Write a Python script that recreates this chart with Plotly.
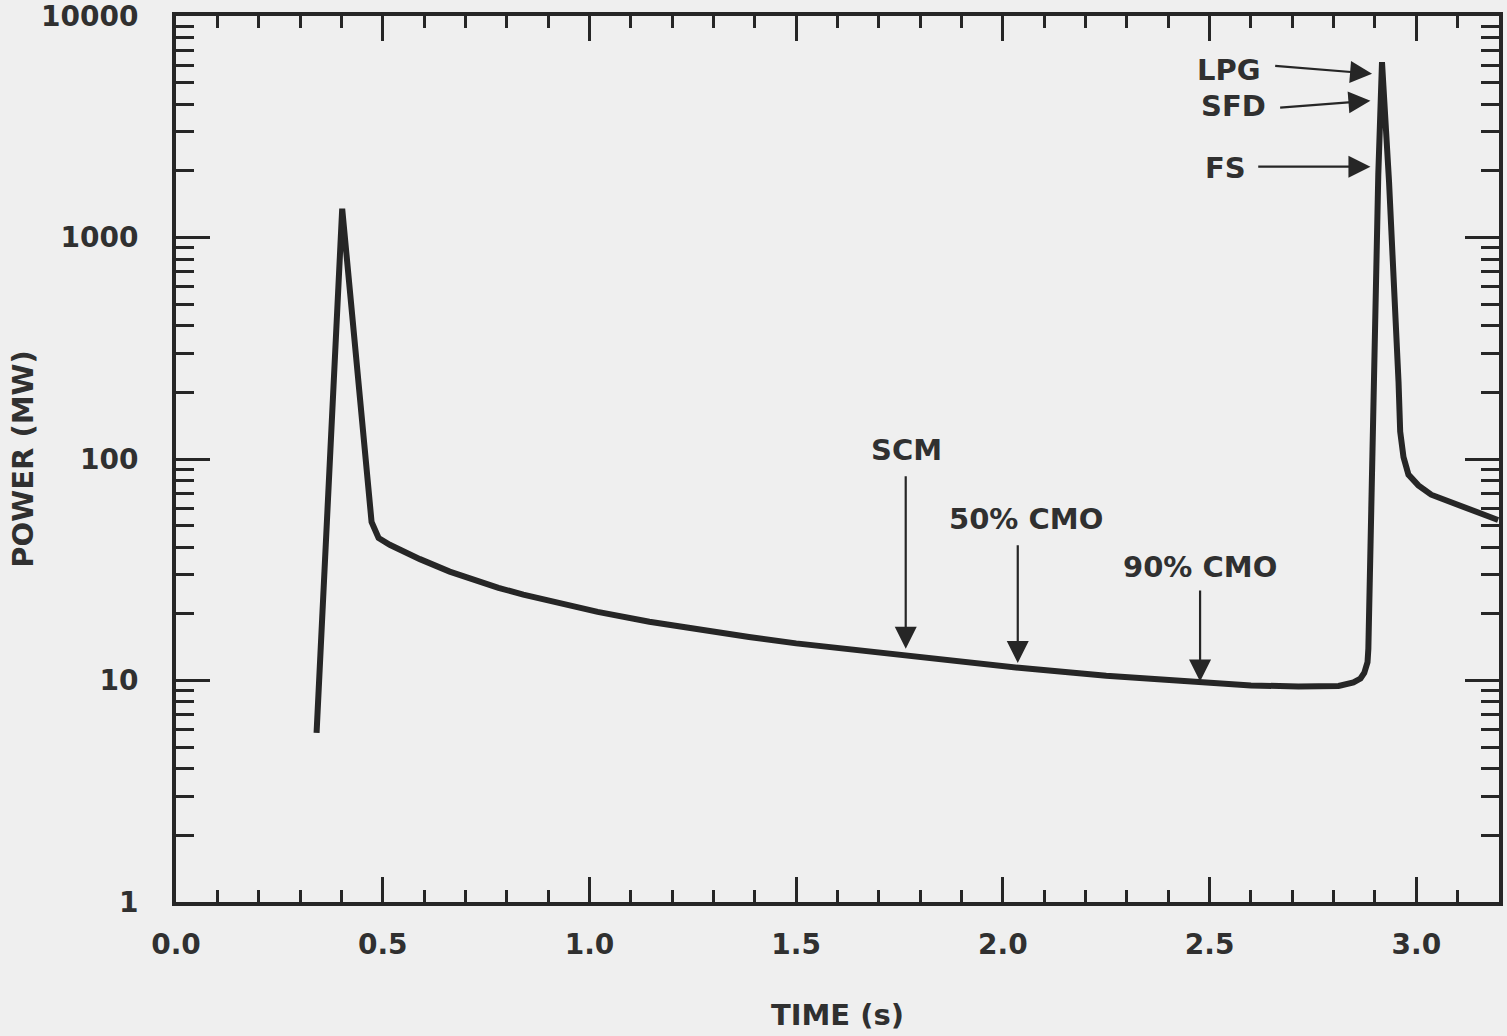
import math
import plotly.graph_objects as go

# ---- data ----
time_s = [0.340, 0.402, 0.473, 0.481, 0.490, 0.517, 0.590, 0.662, 0.720, 0.780,
          0.840, 0.903, 1.020, 1.145, 1.260, 1.386, 1.500, 1.628, 1.749, 1.900,
          2.039, 2.250, 2.473, 2.600, 2.715, 2.812, 2.848, 2.865, 2.874, 2.882,
          2.884, 2.896, 2.908, 2.917, 2.934, 2.957, 2.961, 2.969, 2.981, 3.005,
          3.036, 3.198]
power_mw = [5.8, 1350, 52, 47, 44, 41, 35.3, 31.0, 28.4, 26.2,
            24.4, 22.8, 20.4, 18.4, 17.0, 15.7, 14.7, 13.8, 13.0, 12.2,
            11.4, 10.5, 9.77, 9.5, 9.38, 9.45, 9.8, 10.2, 10.8, 12.1,
            13.9, 223, 1920, 6200, 1790, 223, 133, 102, 85, 76,
            69, 53]

# vertical arrow annotations: label, text position, arrow tail, arrow tip
down_labels = ["SCM", "50% CMO", "90% CMO"]
down_text_x = [1.766, 2.056, 2.476]
down_text_y = [110, 53.7, 32.6]
down_tail_x = [1.765, 2.036, 2.477]
down_tail_y = [84.9, 41.4, 25.9]
down_tip_y = [13.9, 12.0, 9.9]

side_labels = ["LPG", "SFD", "FS"]
side_text_x = [2.546, 2.558, 2.539]
side_text_y = [5727, 3940, 2067]
side_tail_x = [2.655, 2.667, 2.614]
side_tail_y = [5970, 3855, 2089]
side_tip_x = [2.893, 2.889, 2.889]
side_tip_y = [5495, 4150, 2089]

y_tick_vals = [1, 10, 100, 1000, 10000]
y_tick_text = ["1", "10", "100", "1000", "10000"]
x_tick_vals = [0.0, 0.5, 1.0, 1.5, 2.0, 2.5, 3.0]
x_tick_text = ["0.0", "0.5", "1.0", "1.5", "2.0", "2.5", "3.0"]

INK = "#262626"
TXT = "#303030"
BG = "#efefef"
FONT = "DejaVu Sans, Verdana, sans-serif"
L = math.log10


def b(s):
    return "<b>" + s + "</b>"


fig = go.Figure()
fig.add_trace(go.Scatter(x=time_s, y=power_mw, mode="lines",
                         line=dict(color=INK, width=6), showlegend=False,
                         hoverinfo="skip"))

ann = []
for lab, tx, ty, ax_, ay_, tip in zip(down_labels, down_text_x, down_text_y,
                                      down_tail_x, down_tail_y, down_tip_y):
    ann.append(dict(x=tx, y=L(ty), xref="x", yref="y", text=b(lab), showarrow=False,
                    font=dict(size=29, color=TXT, family=FONT)))
    ann.append(dict(x=ax_, y=L(tip), ax=ax_, ay=L(ay_), xref="x", yref="y",
                    axref="x", ayref="y", text="", showarrow=True,
                    arrowhead=2, arrowsize=2.0, arrowwidth=2.2, arrowcolor=INK))
for lab, tx, ty, ax_, ay_, px, py in zip(side_labels, side_text_x, side_text_y,
                                         side_tail_x, side_tail_y, side_tip_x, side_tip_y):
    ann.append(dict(x=tx, y=L(ty), xref="x", yref="y", text=b(lab), showarrow=False,
                    font=dict(size=29, color=TXT, family=FONT)))
    ann.append(dict(x=px, y=L(py), ax=ax_, ay=L(ay_), xref="x", yref="y",
                    axref="x", ayref="y", text="", showarrow=True,
                    arrowhead=2, arrowsize=2.0, arrowwidth=2.2, arrowcolor=INK))

minor_y = [m * 10 ** k for k in range(0, 4) for m in range(2, 10)]

fig.update_layout(
    width=1507, height=1036,
    margin=dict(l=176, r=8, t=16, b=134),
    paper_bgcolor=BG, plot_bgcolor=BG,
    font=dict(family=FONT, color=TXT),
    annotations=ann,
    xaxis=dict(
        range=[0, 3.2], showgrid=False, zeroline=False,
        showline=True, linecolor=INK, linewidth=4, mirror="allticks",
        ticks="inside", ticklen=25, tickwidth=3, tickcolor=INK,
        tickvals=x_tick_vals, ticktext=[b(t) for t in x_tick_text],
        tickfont=dict(size=28, color=TXT, family=FONT),
        ticklabelstandoff=14, ticklabeloverflow="allow", automargin=False,
        minor=dict(ticks="inside", ticklen=12, tickwidth=3, tickcolor=INK, dtick=0.1),
        title=dict(text=b("TIME (s)"), font=dict(size=29, color=TXT, family=FONT), standoff=46),
    ),
    yaxis=dict(
        type="log", range=[-0.0005, 4.0005], showgrid=False, zeroline=False,
        showline=True, linecolor=INK, linewidth=4, mirror="allticks",
        ticks="inside", ticklen=34, tickwidth=3, tickcolor=INK,
        tickvals=y_tick_vals, ticktext=[b(t) for t in y_tick_text],
        tickfont=dict(size=28, color=TXT, family=FONT),
        ticklabelstandoff=28, ticklabeloverflow="allow", automargin=False,
        minor=dict(ticks="inside", ticklen=18, tickwidth=3, tickcolor=INK, tickvals=minor_y),
        title=dict(text=b("POWER (MW)"), font=dict(size=29, color=TXT, family=FONT), standoff=0),
    ),
)

fig.write_html("out.html")
